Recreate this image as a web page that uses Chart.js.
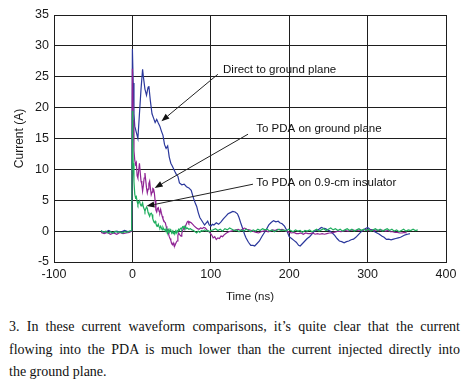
<!DOCTYPE html>
<html>
<head>
<meta charset="utf-8">
<script src="https://cdn.jsdelivr.net/npm/chart.js@4.4.1/dist/chart.umd.min.js"></script>
<style>
  html, body { margin: 0; padding: 0; background: #fff; }
  #wrap { position: relative; width: 470px; height: 385px; overflow: hidden; }
  #chartBox { position: absolute; left: 0; top: 0; width: 470px; height: 310px; }
  .cap { position: absolute; left: 9px; width: 451px; font-family: "Liberation Serif", "Times New Roman", serif;
         font-size: 14px; line-height: 22px; color: #111; white-space: nowrap; }
  .just { text-align: justify; text-align-last: justify; }
</style>
</head>
<body>
<div id="wrap">
  <div id="chartBox"><canvas id="c" width="470" height="310"></canvas></div>
  <div class="cap just" style="top:316px">3. In these current waveform comparisons, it’s quite clear that the current</div>
  <div class="cap just" style="top:339px">flowing into the PDA is much lower than the current injected directly into</div>
  <div class="cap" style="top:361px">the ground plane.</div>
</div>
<script>
// ---- Data (time in ns, current in A) ----
const xTicks = [-100, 0, 100, 200, 300, 400];
const yTicks = [-5, 0, 5, 10, 15, 20, 25, 30, 35];
const xTitle = 'Time (ns)';
const yTitle = 'Current (A)';

const directToGround = [
 [-40,0],[-35,-0.2],[-30,0.1],[-25,-0.3],[-20,0],[-15,-0.2],[-10,0.1],[-5,-0.1],[-1,0],[0,29.5],[1,24],[2,19],[3,17],
 [5,16],[7,15],[9,19],[11,23],[13,26.2],[14,25],[16,23],[18,22],[20,23.3],[21,23.5],[23,21],[25,19],[27,18.3],
 [29,17.6],[31,18.1],[33,17.5],[35,17],[37,16.2],[39,15.5],[41,14],[43,13.4],[45,13.8],[47,12],[49,11],[51,10.5],
 [54,9.7],[56,9.2],[58,8.9],[60,7.8],[63,7.5],[66,7.6],[69,7.2],[72,7],[75,6.6],[78,5.3],[80,4.6],[82,4.0],[84,3.0],
 [86,2.2],[88,1.8],[90,1.4],[92,1.0],[94,1.3],[96,1.6],[98,1.0],[100,0.8],[102,1.1],[104,1.0],[107,1.35],[110,1.1],
 [113,1.5],[116,2.0],[119,2.4],[122,2.8],[125,3.0],[128,3.2],[131,3.1],[134,2.8],[136,2.2],[138,1.4],[141,0.3],
 [143,-0.5],[145,-1.1],[148,-1.8],[151,-2.3],[154,-2.3],[156,-2.4],[159,-2.0],[162,-1.6],[165,-0.9],[168,-0.3],
 [171,0.3],[174,1.0],[177,1.4],[180,1.7],[183,1.5],[186,1.6],[188,1.35],[191,1.2],[194,0.8],[197,0.1],[200,-0.9],
 [203,-1.2],[206,-1.5],[209,-1.8],[212,-2.3],[214,-2.4],[217,-2.0],[220,-1.6],[223,-1.2],[226,-0.9],[229,-0.5],
 [232,0],[235,0.1],[238,0.3],[241,0.6],[243,0.5],[246,0.4],[249,0.2],[252,0.0],[255,-0.3],[258,-0.7],[261,-1.2],
 [264,-1.6],[267,-1.7],[270,-1.9],[273,-1.7],[276,-1.6],[279,-1.4],[282,-1.3],[285,-1.0],[288,-0.6],[291,-0.2],
 [294,0.1],[297,0.4],[300,0.6],[303,0.3],[306,0.2],[309,-0.1],[312,-0.3],[315,-0.5],[318,-0.8],[321,-1.0],
 [324,-1.35],[327,-1.3],[330,-1.4],[333,-1.3],[336,-1.2],[339,-1.1],[342,-1.0],[345,-0.8],[348,-0.6],[351,-0.5],[354,-0.4]
];

const pdaOnGround = [
 [-40,-0.2],[-36,-0.4],[-32,-0.2],[-28,-0.5],[-24,-0.3],[-20,-0.5],[-16,-0.2],[-12,-0.4],[-8,-0.3],[-4,-0.2],[-1,0],
 [0,26.3],[1,18],[2,13],[3,11.5],[4,10.8],[5,11.1],[6,9],[7,8.6],[8,9.8],[9,11.0],[10,9.5],[11,8.1],[12,7.6],[13,6.5],
 [14,7.4],[15,8.6],[16,9.4],[17,8.2],[18,7.0],[19,6.2],[20,6.8],[21,7.7],[22,8.1],[23,6.9],[24,5.9],[25,6.3],[26,6.9],
 [27,6.8],[28,6.2],[29,4.9],[30,3.4],[31,3.1],[32,3.7],[33,3.8],[34,3.2],[35,3.0],[36,3.5],[37,2.9],[38,2.4],[39,2.0],
 [40,1.7],[41,1.5],[42,1.35],[43,0.8],[44,0.4],[45,0.2],[46,-0.4],[47,-0.9],[48,-1.2],[49,-1.5],[50,-2.0],[51,-2.2],
 [52,-1.9],[53,-2.3],[54,-2.4],[55,-2.1],[56,-1.8],[57,-1.6],[58,-0.7],[59,-0.3],[60,-0.5],[61,-0.7],[62,-0.8],
 [63,-0.4],[64,0.1],[65,0.3],[66,0.6],[67,0.5],[68,0.9],[69,1.2],[70,1.5],[71,1.6],[72,1.3],[73,1.5],[75,1.35],
 [77,1.1],[79,0.8],[81,0.6],[83,0.4],[85,0.3],[87,0.5],[89,0.4],[91,0.6],[93,0.5],[95,0.2],[97,0],[99,-0.3],
 [101,-0.6],[103,-1.1],[105,-0.9],[107,-1.35],[109,-1.1],[111,-1.2],[113,-0.8],[115,-0.9],[117,-0.6],[120,-0.3],
 [123,-0.1],[126,0],[129,0.1],[132,0.2],[135,0.3],[138,0.1],[141,0.4],[143,0.5],[146,0.3],[149,0.2],[152,0.1],
 [155,-0.1],[158,-0.2],[161,-0.3],[164,-0.1],[167,0],[170,0.1],[173,-0.1],[176,0],[179,0.2],[182,0.1],[185,0.3],
 [188,0.2],[191,0.3],[194,0.1],[197,0],[200,-0.2],[203,-0.3],[206,-0.2],[209,-0.4],[212,-0.4],[215,-0.3],[218,-0.5],
 [221,-0.3],[224,-0.4],[227,-0.4],[230,-0.3],[233,-0.5],[236,-0.4],[239,-0.5],[242,-0.4],[245,-0.5],[248,-0.4],
 [251,-0.3],[254,-0.3],[257,-0.2],[260,-0.1],[263,0],[266,-0.1],[269,0],[272,0.1],[275,0],[278,0.1],[281,0.2],
 [284,0.1],[287,0.1],[290,0.2],[293,0.1],[296,0.3],[299,0.2],[302,0.1],[305,0.2],[308,0.1],[311,0.2],[314,0.1],
 [317,0.2],[320,0.1],[323,0],[326,0.1],[329,-0.1],[332,-0.1],[335,-0.2],[338,-0.2],[341,-0.3],[344,-0.3],[347,-0.2],[350,-0.3]
];

const pdaOnInsulator = [
 [-40,0.1],[-37,-0.2],[-34,0],[-31,-0.3],[-28,-0.1],[-25,-0.3],[-22,0],[-19,-0.2],[-16,-0.1],[-13,-0.3],[-10,-0.1],
 [-7,-0.2],[-4,0],[-1,0.1],[0,19.5],[0.5,14],[1,11],[2,8],[3,6],[4,5.4],[5,5.6],[6,4.8],[7,4.3],[8,4.7],[9,4.9],
 [10,4.4],[11,4.1],[12,4.3],[13,4.6],[14,3.9],[15,3.6],[16,3.2],[17,3.6],[18,3.9],[19,3.7],[20,3.0],[21,2.7],[22,2.4],
 [23,2.8],[24,2.9],[25,2.7],[26,2.0],[27,1.6],[28,1.35],[29,1.6],[30,1.2],[31,0.9],[32,0.8],[33,1.1],[34,0.7],[35,0.5],
 [36,0.8],[37,0.5],[38,0.2],[39,0.6],[40,0.3],[41,0.3],[42,0],[43,0.4],[44,-0.1],[45,-0.3],[46,0.2],[47,-0.2],[48,0.3],
 [49,0.1],[50,-0.3],[51,0],[52,-0.4],[53,-0.2],[54,-0.5],[55,0],[56,-0.3],[57,0.1],[58,0],[59,0.3],[60,0.1],[61,0.4],
 [62,0.5],[63,0.3],[64,0.7],[65,0.6],[66,0.8],[67,0.5],[68,0.7],[69,0.4],[70,0.5],[72,0.3],[74,0.4],[76,0.2],[78,0.1],
 [80,-0.1],[82,-0.3],[84,0],[86,-0.2],[88,0.1],[90,0],[92,0.2],[94,0],[96,0.1],[98,-0.1],[100,0.1],[103,0.2],[106,0.4],
 [109,0.1],[112,0.3],[115,0],[118,0.4],[121,0.2],[124,0.5],[127,0.3],[130,0.1],[133,0.2],[136,-0.1],[139,0.2],[142,0],
 [145,0.3],[148,0.1],[151,-0.1],[154,0.2],[157,0],[160,0.3],[163,0.1],[166,0.4],[169,0.2],[172,0.3],[175,0],[178,0.2],
 [181,-0.1],[184,0.1],[187,0.3],[190,0.1],[193,0.2],[196,0],[199,0.3],[202,0.1],[205,-0.1],[208,0.2],[211,0],[214,0.1],
 [217,-0.2],[220,0.1],[223,0],[226,0.2],[229,-0.1],[232,0.1],[235,0.3],[238,0],[241,0.2],[244,0.4],[247,0.1],[250,0.3],
 [253,0.5],[256,0.2],[259,0.4],[262,0.1],[265,0.3],[268,0],[271,0.2],[274,0.4],[277,0.1],[280,0.3],[283,0],[286,0.2],
 [289,0.4],[292,0.1],[295,0.3],[298,0.1],[301,0.3],[304,0],[307,0.2],[310,0.4],[313,0.1],[316,0.3],[319,0],[322,0.2],
 [325,0.4],[328,0.1],[331,0.3],[334,0],[337,0.2],[340,-0.1],[343,0.1],[346,0.3],[349,0],[352,0.2],[355,0.1],[358,0.3],
 [361,0.1],[364,0.2]
];

const seriesNames = ['Direct to ground plane', 'To PDA on ground plane', 'To PDA on 0.9-cm insulator'];

// ---- Annotation plugin (labels + arrows placed in data units) ----
const notesPlugin = {
  id: 'notes',
  afterDatasetsDraw(chart) {
    const xs = chart.scales.x, ys = chart.scales.y, ctx = chart.ctx;
    const notes = [
      { text: seriesNames[0], tx: 115.6, ty: 26.2, a: [109, 25.4, 37, 17.8] },
      { text: seriesNames[1], tx: 158,   ty: 16.5, a: [147.5, 15.7, 28.4, 7.0] },
      { text: seriesNames[2], tx: 158,   ty: 7.8,  a: [153.8, 7.6, 17.9, 4.05] }
    ];
    ctx.save();
    ctx.font = '11.5px "Liberation Sans", Arial, sans-serif';
    ctx.fillStyle = '#111';
    ctx.strokeStyle = '#222';
    ctx.lineWidth = 1;
    ctx.textBaseline = 'middle';
    ctx.textAlign = 'left';
    notes.forEach(n => {
      ctx.fillStyle = '#111';
      ctx.fillText(n.text, xs.getPixelForValue(n.tx), ys.getPixelForValue(n.ty));
      const x0 = xs.getPixelForValue(n.a[0]), y0 = ys.getPixelForValue(n.a[1]);
      const x1 = xs.getPixelForValue(n.a[2]), y1 = ys.getPixelForValue(n.a[3]);
      const ang = Math.atan2(y1 - y0, x1 - x0);
      const L = 8, W = 3;
      const bx = x1 - L * Math.cos(ang), by = y1 - L * Math.sin(ang);
      ctx.beginPath(); ctx.moveTo(x0, y0); ctx.lineTo(bx, by); ctx.stroke();
      ctx.beginPath();
      ctx.moveTo(x1, y1);
      ctx.lineTo(bx + W * Math.sin(ang), by - W * Math.cos(ang));
      ctx.lineTo(bx - W * Math.sin(ang), by + W * Math.cos(ang));
      ctx.closePath(); ctx.fill();
    });
    ctx.restore();
  }
};

const toXY = arr => arr.map(p => ({ x: p[0], y: p[1] }));
const tickFont = { family: '"Liberation Sans", Arial, sans-serif', size: 12.5 };
const titleFontY = { family: '"Liberation Sans", Arial, sans-serif', size: 12 };
const titleFontX = { family: '"Liberation Sans", Arial, sans-serif', size: 11.5 };
const gridColor = '#1e1e1e';

new Chart(document.getElementById('c'), {
  type: 'line',
  data: {
    datasets: [
      { label: seriesNames[0], data: toXY(directToGround), borderColor: '#2b389c', order: 3 },
      { label: seriesNames[1], data: toXY(pdaOnGround), borderColor: '#8f2394', order: 2 },
      { label: seriesNames[2], data: toXY(pdaOnInsulator), borderColor: '#1fae5e', order: 1 }
    ]
  },
  options: {
    responsive: false,
    animation: false,
    events: [],
    layout: { padding: { left: 0, top: 15, right: 24, bottom: 0 } },
    elements: { line: { borderWidth: 1.2, tension: 0 }, point: { radius: 0 } },
    plugins: { legend: { display: false }, tooltip: { enabled: false } },
    scales: {
      x: {
        type: 'linear', min: -100, max: 400,
        afterBuildTicks: s => { s.ticks = xTicks.map(v => ({ value: v })); },
        afterFit: s => { s.height = 48; },
        grid: { color: gridColor, lineWidth: 1, drawTicks: false },
        border: { color: gridColor, width: 1 },
        ticks: { font: tickFont, color: '#1a1a1a', padding: 5, maxRotation: 0 },
        title: { display: true, text: xTitle, font: titleFontX, color: '#1a1a1a', padding: { top: 0, bottom: 6 } }
      },
      y: {
        type: 'linear', min: -5, max: 35,
        afterBuildTicks: s => { s.ticks = yTicks.map(v => ({ value: v })); },
        afterFit: s => { s.width = 54; },
        grid: { color: gridColor, lineWidth: 1, drawTicks: false },
        border: { color: gridColor, width: 1 },
        ticks: { font: tickFont, color: '#1a1a1a', padding: 5 },
        title: { display: true, text: yTitle, font: titleFontY, color: '#1a1a1a', padding: { top: 12, bottom: 0 } }
      }
    }
  },
  plugins: [notesPlugin]
});
</script>
</body>
</html>
